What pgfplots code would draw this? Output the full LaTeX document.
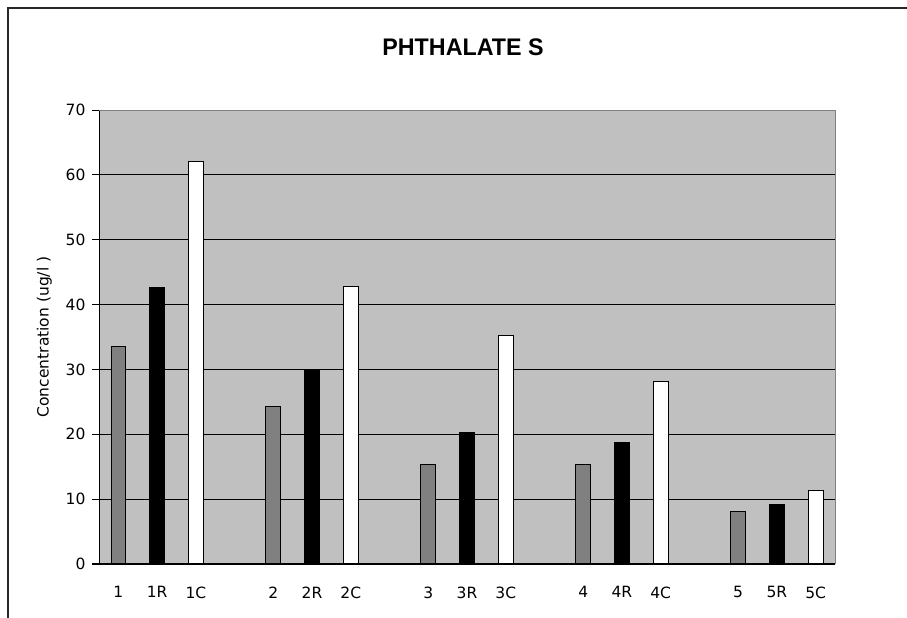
\documentclass[border=0pt]{standalone}
\usepackage{pgfplots}
\pgfplotsset{compat=1.18}
\usepackage{fontspec}
\setmainfont{Liberation Sans}
\newfontfamily\labelfont{DejaVu Sans}
\definecolor{plotbg}{RGB}{192,192,192}
\definecolor{barA}{RGB}{128,128,128}
\definecolor{framec}{RGB}{40,40,40}

% sample, repeat (R) and control (C) concentrations
\pgfplotstableread{
x y
0 33.6
4 24.3
8 15.4
12 15.4
16 8.1
}\sample
\pgfplotstableread{
x y
1 42.6
5 29.9
9 20.3
13 18.8
17 9.1
}\repeatdata
\pgfplotstableread{
x y
2 62.0
6 42.8
10 35.3
14 28.2
18 11.4
}\control

\begin{document}
\begin{tikzpicture}[x=1pt,y=1pt]
\useasboundingbox (0,0) rectangle (907,618);
\draw[framec, line width=1.3pt] (8,0) -- (8,610) -- (907,610);
\node[font=\fontsize{24}{28}\selectfont\bfseries, xscale=0.97] at (463,571) {PHTHALATE S};
\begin{axis}[
  at={(99pt,54pt)}, anchor=south west,
  scale only axis, width=736pt, height=454pt,
  xmin=-0.5, xmax=18.5, ymin=0, ymax=70,
  axis background/.style={fill=plotbg},
  axis x line*=bottom, axis y line*=left,
  axis line style={black, line width=1pt},
  ytick={0,10,...,70},
  ymajorgrids, grid style={black, line width=1pt},
  xtick={0,1,2,4,5,6,8,9,10,12,13,14,16,17,18},
  xticklabels={1,1R,1C,2,2R,2C,3,3R,3C,4,4R,4C,5,5R,5C},
  extra x ticks={-0.5,0.5,...,18.5},
  extra x tick labels={},
  extra x tick style={major tick length=6pt, tick style={black, line width=1pt}, tick align=outside},
  xtick style={draw=none},
  ytick style={black, line width=1pt},
  tick align=outside,
  major tick length=7pt,
  /pgf/number format/assume math mode=true,
  tick label style={font=\labelfont\fontsize{15.5}{18}\selectfont},
  xticklabel style={yshift=-12pt},
  yticklabel style={xshift=-3pt},
  ylabel={Concentration (ug/l )},
  ylabel style={font=\labelfont\fontsize{15.5}{18}\selectfont, yshift=7pt},
  ybar, bar shift=0pt, bar width=0.38,
  every axis plot/.append style={draw=black, line width=1pt},
  clip=false,
]
\addplot[fill=barA] table {\sample};
\addplot[fill=black] table {\repeatdata};
\addplot[fill=white] table {\control};
\draw[gray, line width=1pt] (rel axis cs:0,1) -- (rel axis cs:1,1) -- (rel axis cs:1,0);
\end{axis}
\end{tikzpicture}
\end{document}
